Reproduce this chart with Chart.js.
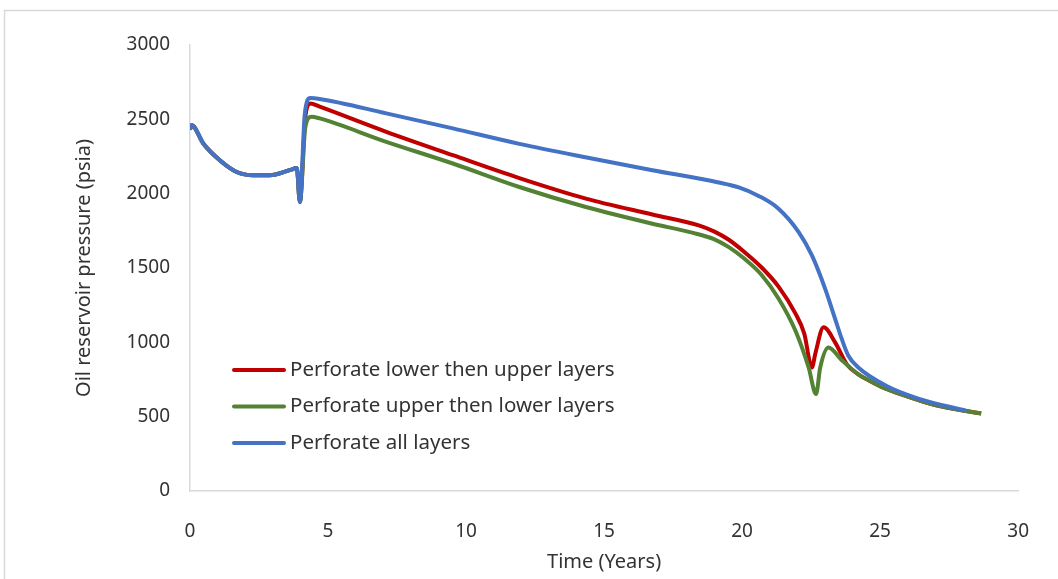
<!DOCTYPE html>
<html>
<head>
<meta charset="utf-8">
<script src="https://cdn.jsdelivr.net/npm/chart.js@4/dist/chart.umd.min.js"></script>
<style>
  html, body { margin: 0; padding: 0; background: #fff; }
  #wrap { width: 1058px; height: 579px; }
</style>
</head>
<body>
<div id="wrap"><canvas id="pressure"></canvas></div>
<script>
// shared history before the perforation change (all three cases overlap)
var earlyYears = [0, 0.06, 0.48, 1.08, 1.69, 2.29, 2.89, 3.61, 3.87, 3.98];
var earlyPsia = [2432, 2461, 2338, 2225, 2146, 2124, 2124, 2158, 2172, 1944];

var lowerFirstYears = [4.18, 4.36, 4.7, 7.11, 9.52, 11.93, 14.34, 16.75, 18.43, 19.0, 19.52, 20.1, 20.7, 21.32, 21.93, 22.25, 22.53, 22.65, 22.95, 23.37, 23.8, 24.21, 24.58, 25.18, 25.77, 26.99, 28.66];
var lowerFirstPsia = [2520, 2607, 2585, 2416, 2259, 2105, 1967, 1860, 1787, 1745, 1690, 1605, 1505, 1375, 1195, 1060, 831, 922, 1101, 1000, 850, 785, 745, 690, 650, 578, 521];

var upperFirstYears = [4.18, 4.4, 4.7, 7.11, 9.52, 11.93, 14.34, 16.75, 18.19, 19.0, 19.52, 20.1, 20.7, 21.32, 21.93, 22.41, 22.68, 22.83, 23.13, 23.61, 24.21, 24.58, 25.18, 25.77, 26.99, 28.66];
var upperFirstPsia = [2450, 2518, 2506, 2349, 2203, 2045, 1910, 1798, 1738, 1693, 1640, 1560, 1455, 1295, 1079, 831, 652, 831, 966, 880, 785, 745, 690, 650, 578, 521];

var allLayersYears = [4.16, 4.36, 4.7, 7.11, 9.52, 11.93, 14.46, 16.75, 19.15, 19.88, 20.6, 21.32, 22.05, 22.53, 23.01, 23.37, 23.61, 23.85, 24.21, 25.18, 26.38, 28.13];
var allLayersPsia = [2540, 2643, 2637, 2540, 2439, 2335, 2240, 2158, 2075, 2042, 1985, 1899, 1742, 1585, 1360, 1158, 1023, 910, 831, 712, 622, 539];

var seriesLabels = ['Perforate lower then upper layers', 'Perforate upper then lower layers', 'Perforate all layers'];
var seriesColors = ['#c00000', '#548235', '#4472c4'];

var xTicks = [0, 5, 10, 15, 20, 25, 30];
var yTicks = [0, 500, 1000, 1500, 2000, 2500, 3000];

function toPoints(years, psia) {
    var xs = earlyYears.concat(years);
    var ys = earlyPsia.concat(psia);
    return xs.map(function(x, i) { return {x: x, y: ys[i]}; });
}

var family = "'Noto Sans', sans-serif";
var tickFont = {family: family, size: 19};
var textColor = '#333333';
var axisColor = '#d9d9d9';

// outer frame of the chart box
var framePlugin = {
    id: 'frame',
    beforeDraw: function(chart) {
        var ctx = chart.ctx;
        ctx.save();
        ctx.strokeStyle = axisColor;
        ctx.lineWidth = 1.5;
        ctx.strokeRect(4.5, 10.5, 1100, 600);
        ctx.restore();
    }
};

// legend sits inside the plot, lower left
var insideLegend = {
    id: 'insideLegend',
    afterDatasetsDraw: function(chart) {
        var ctx = chart.ctx;
        ctx.save();
        ctx.font = "20.5px 'Noto Sans', sans-serif";
        ctx.textBaseline = 'middle';
        ctx.fillStyle = textColor;
        seriesLabels.forEach(function(label, i) {
            var y = 370 + i * 36.5;
            ctx.strokeStyle = seriesColors[i];
            ctx.lineWidth = 4;
            ctx.lineCap = 'round';
            ctx.beginPath();
            ctx.moveTo(234, y);
            ctx.lineTo(284, y);
            ctx.stroke();
            ctx.fillText(label, 290, y);
        });
        ctx.restore();
    }
};

var series = [
    [lowerFirstYears, lowerFirstPsia, 2],
    [upperFirstYears, upperFirstPsia, 1],
    [allLayersYears, allLayersPsia, 0]
];

function plain(value) { return String(value); }

new Chart(document.getElementById('pressure').getContext('2d'), {
    type: 'line',
    data: {
        datasets: series.map(function(s, i) {
            return {
                label: seriesLabels[i],
                data: toPoints(s[0], s[1]),
                borderColor: seriesColors[i],
                backgroundColor: seriesColors[i],
                borderWidth: 4,
                pointRadius: 0,
                cubicInterpolationMode: 'monotone',
                fill: false,
                order: s[2]
            };
        })
    },
    options: {
        responsive: true,
        maintainAspectRatio: false,
        animation: false,
        layout: {
            padding: {left: 0, right: 38, top: 45, bottom: 0}
        },
        plugins: {
            legend: {display: false},
            tooltip: {enabled: false}
        },
        scales: {
            x: {
                type: 'linear',
                min: 0,
                max: 30,
                afterBuildTicks: function(scale) {
                    scale.ticks = xTicks.map(function(v) { return {value: v}; });
                },
                afterFit: function(scale) { scale.height = 88; },
                grid: {display: false, drawTicks: false},
                border: {display: true, color: axisColor, width: 1.5},
                ticks: {font: tickFont, color: textColor, padding: 29, maxRotation: 0, callback: plain},
                title: {
                    display: true,
                    text: 'Time (Years)',
                    font: {family: family, size: 20},
                    color: textColor,
                    padding: {top: 4, bottom: 5}
                }
            },
            y: {
                type: 'linear',
                min: 0,
                max: 3000,
                afterBuildTicks: function(scale) {
                    scale.ticks = yTicks.map(function(v) { return {value: v}; });
                },
                afterFit: function(scale) { scale.width = 190; },
                grid: {display: false, drawTicks: false},
                border: {display: true, color: axisColor, width: 1.5},
                ticks: {font: tickFont, color: textColor, padding: 20, callback: plain},
                title: {
                    display: true,
                    text: 'Oil reservoir pressure (psia)',
                    font: {family: family, size: 20},
                    color: textColor,
                    padding: {top: 72, bottom: 0}
                }
            }
        }
    },
    plugins: [framePlugin, insideLegend]
});
</script>
</body>
</html>
